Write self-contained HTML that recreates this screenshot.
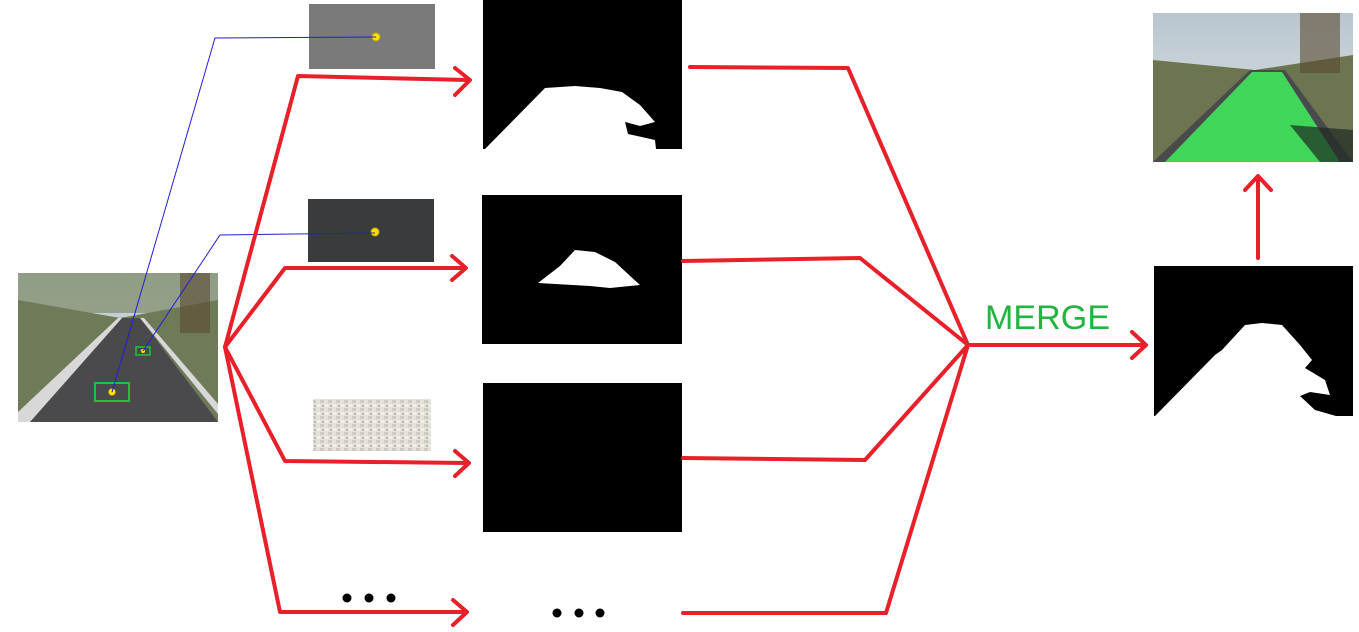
<!DOCTYPE html>
<html><head><meta charset="utf-8"><style>
html,body{margin:0;padding:0;background:#fff;width:1359px;height:632px;overflow:hidden}
svg{display:block}
</style></head><body>
<svg width="1359" height="632" viewBox="0 0 1359 632">
<defs>
<linearGradient id="sky" x1="0" y1="0" x2="0" y2="1"><stop offset="0" stop-color="#b9c6cf"/><stop offset="1" stop-color="#dfe4e6"/></linearGradient>
<pattern id="noise" width="8" height="8" patternUnits="userSpaceOnUse"><rect width="8" height="8" fill="#e4e0da"/><rect x="0" y="0" width="4" height="3" fill="#cfcac2"/><rect x="5" y="4" width="3" height="3" fill="#f2efea"/><rect x="2" y="5" width="2" height="2" fill="#bdb8af"/></pattern>
</defs>
<g>
<rect x="18" y="273" width="200" height="149" fill="url(#sky)"/>
<rect x="18" y="273" width="200" height="40" fill="#6d7a4a" opacity="0.55"/>
<polygon points="18,300 120,318 218,300 218,422 18,422" fill="#6f7a58"/>
<polygon points="18,422 118,318 140,318 218,422" fill="#4a4a4c"/>
<polygon points="18,412 118,318 122,318 30,422 18,422" fill="#d8d8d8"/>
<polygon points="140,318 144,318 218,404 218,414" fill="#d8d8d8"/>
<rect x="180" y="273" width="30" height="60" fill="#5a4a30" opacity="0.6"/>
<rect x="95" y="383" width="34" height="18" fill="none" stroke="#22c040" stroke-width="2"/>
<circle cx="112" cy="392" r="3.5" fill="#ffe000"/>
<rect x="136" y="347" width="14" height="8" fill="none" stroke="#22c040" stroke-width="1.5"/>
<circle cx="143" cy="351" r="2" fill="#ffe000"/>
</g>
<rect x="309" y="4" width="126" height="65" fill="#7a7a7a"/>
<circle cx="376" cy="37" r="4" fill="#ffe000" stroke="#c8a800"/>
<rect x="308" y="199" width="126" height="63" fill="#3a3b3d"/>
<circle cx="375" cy="232" r="4" fill="#ffe000" stroke="#c8a800"/>
<rect x="313" y="399" width="118" height="52" fill="url(#noise)"/>
<polyline points="112,392 215,38 376,37" fill="none" stroke="#2020d0" stroke-width="1"/>
<polyline points="143,351 220,235 375,233" fill="none" stroke="#2020d0" stroke-width="1"/>
<g><rect x="483" y="0" width="199" height="149" fill="#000"/>
<polygon points="485,149 545,88 575,86 600,88 622,92 640,105 655,122 640,126 625,122 628,134 655,140 656,149" fill="#fff"/></g>
<g><rect x="482" y="195" width="200" height="149" fill="#000"/>
<polygon points="538,283 560,266 575,250 595,252 615,262 640,285 610,288 590,286" fill="#fff"/></g>
<rect x="483" y="383" width="199" height="149" fill="#000"/>
<g fill="#000"><circle cx="347" cy="598" r="4.5"/><circle cx="369" cy="598" r="4.5"/><circle cx="391" cy="598" r="4.5"/></g>
<g fill="#000"><circle cx="557" cy="613" r="4.5"/><circle cx="579" cy="613" r="4.5"/><circle cx="600" cy="613" r="4.5"/></g>
<g fill="none" stroke="#e8202a" stroke-width="4" stroke-linejoin="round" stroke-linecap="round">
<polyline points="225,347 298,76 468,80"/><polyline points="455,68 470,80 455,95"/>
<polyline points="225,347 285,268 464,268"/><polyline points="452,256 466,268 452,280"/>
<polyline points="225,347 285,461 467,463"/><polyline points="455,451 469,463 455,476"/>
<polyline points="225,347 280,612 465,612"/><polyline points="453,600 467,612 453,625"/>
<polyline points="690,67 848,68 968,345"/>
<polyline points="683,261 860,258 968,345"/>
<polyline points="683,458 865,460 968,345"/>
<polyline points="683,613 886,613 968,345"/>
<polyline points="968,345 1145,345"/><polyline points="1132,332 1146,345 1132,358"/>
<polyline points="1258,258 1258,177"/><polyline points="1245,190 1258,176 1271,190"/>
</g>
<text x="985" y="329" font-family="Liberation Sans, sans-serif" font-size="34" fill="#22b440" textLength="125">MERGE</text>
<g><rect x="1154" y="266" width="199" height="150" fill="#000"/>
<polygon points="1155,416 1215,355 1222,350 1245,325 1262,323 1282,325 1300,345 1312,360 1305,368 1325,380 1330,395 1310,392 1300,396 1315,410 1336,416" fill="#fff"/></g>
<g>
<rect x="1153" y="13" width="200" height="149" fill="url(#sky)"/>
<polygon points="1153,60 1255,70 1353,55 1353,162 1153,162" fill="#6b7550"/>
<polygon points="1153,162 1250,70 1285,70 1353,162" fill="#4a4a4c"/>
<polygon points="1165,162 1252,72 1282,72 1340,162" fill="#3fd65a"/>
<polygon points="1290,125 1353,130 1353,162 1320,162" fill="#1f2a22" opacity="0.7"/>
<rect x="1300" y="13" width="40" height="60" fill="#5a4a30" opacity="0.6"/>
</g>
</svg>
</body></html>
